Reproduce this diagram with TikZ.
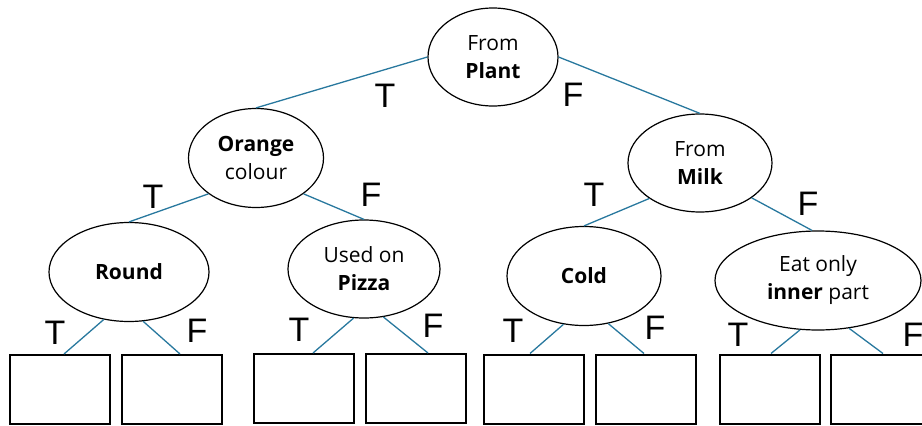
\documentclass[tikz,border=0pt]{standalone}
\usepackage{fontspec}
\setmainfont{Open Sans}
\newfontfamily\lblfont{Liberation Sans}
\usetikzlibrary{shapes.geometric}
\definecolor{edgeblue}{RGB}{40,120,158}
\begin{document}
\begin{tikzpicture}[x=1pt,y=-1pt,
  q/.style={ellipse,draw=black,line width=1.2pt,inner sep=0pt,align=center,font=\fontsize{21}{28}\selectfont},
  leaf/.style={draw=black,line width=2pt,minimum width=100pt,minimum height=69pt,inner sep=0pt},
  conn/.style={draw=edgeblue,line width=1.3pt},
  tf/.style={inner sep=0pt,font=\lblfont\fontsize{34}{34}\selectfont}]
\useasboundingbox (0,0) rectangle (922,426);

% question nodes
\node[q,minimum width=130pt,minimum height=98pt] (root) at (493,57) {From\\\textbf{Plant}};
\node[q,minimum width=135pt,minimum height=99pt] (orange) at (256,158) {\textbf{Orange}\\colour};
\node[q,minimum width=144pt,minimum height=98pt] (milk) at (700,163) {From\\\textbf{Milk}};
\node[q,minimum width=160pt,minimum height=99pt] (round) at (129,272) {\textbf{Round}};
\node[q,minimum width=152pt,minimum height=98pt] (pizza) at (364,269) {Used on\\\textbf{Pizza}};
\node[q,minimum width=154pt,minimum height=99pt] (cold) at (584,276) {\textbf{Cold}};
\node[q,minimum width=206pt,minimum height=99pt] (eat) at (818,280.5) {Eat only\\\textbf{inner} part};

% leaf boxes
\node[leaf] (b1) at (60,389.5) {};
\node[leaf] (b2) at (171.5,389.5) {};
\node[leaf] (b3) at (303.5,388.5) {};
\node[leaf] (b4) at (415.5,388.5) {};
\node[leaf] (b5) at (534,389) {};
\node[leaf] (b6) at (645.5,389) {};
\node[leaf] (b7) at (770,389) {};
\node[leaf] (b8) at (881,389) {};

% connectors
\draw[conn] (root.west) -- (orange.north);
\draw[conn] (root.east) -- (milk.north);
\draw[conn] (orange.217) -- (round.north);
\draw[conn] (orange.-37) -- (pizza.north);
\draw[conn] (milk.215) -- (cold.north);
\draw[conn] (milk.-34) -- ([xshift=-6pt]eat.north);
\draw[conn] (round.242) -- ([xshift=4pt]b1.north);
\draw[conn] (round.286) -- ([xshift=8.5pt]b2.north);
\draw[conn] (pizza.258) -- ([xshift=9.5pt]b3.north);
\draw[conn] (pizza.292) -- ([xshift=12.5pt]b4.north);
\draw[conn] (cold.247) -- ([xshift=-4pt]b5.north);
\draw[conn] (cold.297) -- ([xshift=-1.5pt]b6.north);
\draw[conn] (eat.250) -- ([xshift=1pt]b7.north);
\draw[conn] (eat.303) -- ([xshift=2pt]b8.north);

% T / F labels
\node[tf] (l1) at (385,96) {T};
\node[tf] (l2) at (573,95) {F};
\node[tf] (l3) at (153,197) {T};
\node[tf] (l4) at (371,195) {F};
\node[tf] (l5) at (594,195) {T};
\node[tf] (l6) at (808,204) {F};
\node[tf] (l7) at (55,333) {T};
\node[tf] (l8) at (197,331) {F};
\node[tf] (l9) at (299,330) {T};
\node[tf] (l10) at (433,326) {F};
\node[tf] (l11) at (513,331) {T};
\node[tf] (l12) at (655,328) {F};
\node[tf] (l13) at (738,335) {T};
\node[tf] (l14) at (913,335) {F};
\end{tikzpicture}
\end{document}
